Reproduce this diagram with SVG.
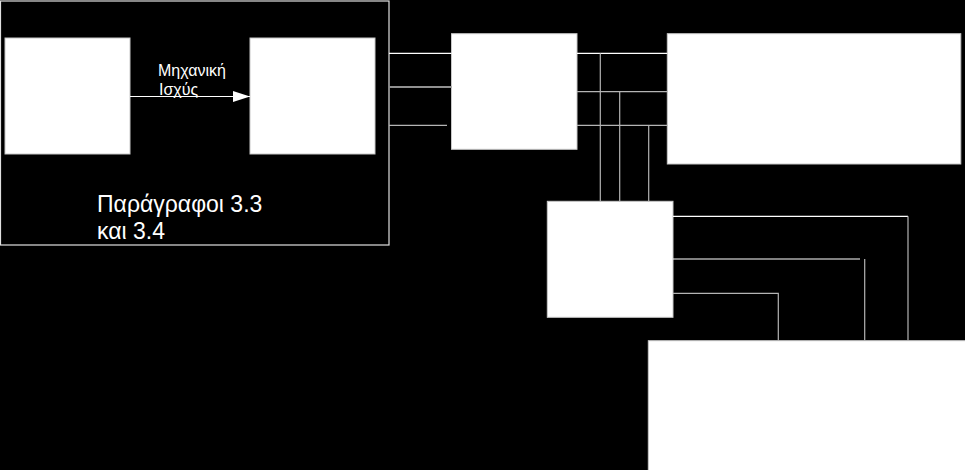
<svg xmlns="http://www.w3.org/2000/svg" width="965" height="470" viewBox="0 0 965 470">
<style>
.box{fill:#fff;stroke:#c8c8c8;stroke-width:1}
.frame{fill:none;stroke:#e0e0e0;stroke-width:1.2}
.w{fill:none;stroke:#fff;stroke-width:1.2}
.g{fill:none;stroke:#b4b4b4;stroke-width:1.2}
.g2{fill:none;stroke:#909090;stroke-width:2}
.lbl{font-family:"Liberation Sans",Arial,sans-serif;fill:#fff}
</style>
<defs>
<marker id="ah" viewBox="0 0 17 11" refX="17" refY="5.5" markerWidth="17" markerHeight="11" markerUnits="userSpaceOnUse" orient="auto">
<path d="M0,0 L17,5.5 L0,11 Z" fill="#fff"/>
</marker>
</defs>
<rect x="0" y="0" width="965" height="470" fill="#000"/>
<g id="frame">
<rect class="frame" x="0.5" y="1" width="388.5" height="244"/>
<text class="lbl" x="97" y="212" font-size="23">Παράγραφοι 3.3</text>
<text class="lbl" x="97" y="239" font-size="23">και 3.4</text>
</g>
<g id="node1"><rect class="box" x="5" y="38" width="125" height="116"/></g>
<g id="node2"><rect class="box" x="250" y="38" width="125" height="116"/></g>
<g id="node3"><rect class="box" x="451.5" y="33.7" width="125.5" height="115.6"/></g>
<g id="node4"><rect class="box" x="667.3" y="33.7" width="293.5" height="130.3"/></g>
<g id="node5"><rect class="box" x="547.3" y="201.3" width="125.7" height="116"/></g>
<g id="node6"><rect class="box" x="648.3" y="340.7" width="320" height="135"/></g>
<g id="connectors">
<line class="w" x1="130" y1="96.5" x2="250" y2="96.5" marker-end="url(#ah)"/>
<text class="lbl" x="158" y="76" font-size="16">Μηχανική</text>
<text class="lbl" x="159" y="95" font-size="16">Ισχύς</text>
<line class="w" x1="389" y1="53.3" x2="451.5" y2="53.3"/>
<line class="g2" x1="389" y1="87" x2="451.5" y2="87"/>
<line class="g" x1="389" y1="125.3" x2="447" y2="125.3"/>
<line class="w" x1="577" y1="53.3" x2="667.3" y2="53.3"/>
<line class="g" x1="577" y1="91.7" x2="667.3" y2="91.7"/>
<line class="g" x1="577" y1="125.3" x2="667.3" y2="125.3"/>
<line class="g" x1="600.3" y1="53.3" x2="600.3" y2="201.3"/>
<line class="g" x1="619.7" y1="91.7" x2="619.7" y2="201.3"/>
<line class="g" x1="648.7" y1="125.3" x2="648.7" y2="201.3"/>
<polyline class="w" points="673,216.3 908,216.3"/>
<line class="g" x1="908" y1="216.3" x2="908" y2="340.7"/>
<line class="w" x1="673" y1="259" x2="860" y2="259"/>
<line class="g" x1="864.7" y1="259" x2="864.7" y2="340.7"/>
<polyline class="g" points="673,293.3 778.3,293.3 778.3,340.7"/>
</g>
</svg>
